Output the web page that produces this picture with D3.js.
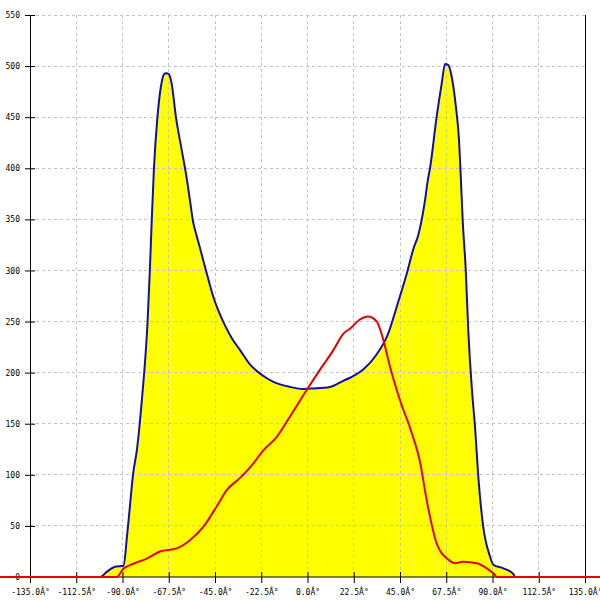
<!DOCTYPE html>
<html><head><meta charset="utf-8">
<script src="https://cdn.jsdelivr.net/npm/d3@7"></script>
<style>body{margin:0;background:#fff}svg{display:block}</style>
</head><body>
<svg id="c" width="600" height="600"></svg>
<script>
const xTicks = [-135, -112.5, -90, -67.5, -45, -22.5, 0, 22.5, 45, 67.5, 90, 112.5, 135];
const xTickLabels = ["-135.0Â°","-112.5Â°","-90.0Â°","-67.5Â°","-45.0Â°","-22.5Â°","0.0Â°","22.5Â°","45.0Â°","67.5Â°","90.0Â°","112.5Â°","135.0Â°"];
const yTicks = [0, 50, 100, 150, 200, 250, 300, 350, 400, 450, 500, 550];

const blueAngles = [-180,-100.9,-97.7,-93.6,-89.5,-87.8,-86.35,-84.9,-82.95,-80.5,-77.8,-76.7,-75.75,-74.7,-73.0,-71.3,-69.8,-68.8,-67.4,-66.1,-64.0,-61.2,-58.5,-57.0,-55.6,-54.2,-52.3,-49.0,-45.8,-42.6,-40.1,-36.9,-32.8,-28.0,-22.3,-16.6,-8.5,-2.0,2.8,10.9,17.4,20.7,27.1,33.7,39.2,43.8,48.3,51.5,53.8,55.5,57.2,58.5,59.6,62.8,65.3,66.9,68.5,70.1,72.2,73.7,74.5,75.5,77.0,78.2,79.9,80.4,81.5,83.1,85.5,88.8,90.4,95.3,100.1,101,180];
const blueValues = [0,0,5,10,11,40,70,100,125,175,250,300,350,400,450,480,492,493,492,483,450,418,387,366,347,336,322,297,274,257,246,234,222,208,198,191,186,184,184.5,186,192,195,203,218,238,267,297,321,334,349,369,388,400,450,483,502,501,490,460,428,395,349,300,242,186,173,147,98,49,20,12,8.5,3,0,0];

const redAngles = [-180,-92.8,-89.6,-84.7,-78.2,-71.8,-63.6,-57.2,-50.7,-44.2,-39.3,-32.8,-26.4,-21.5,-15.0,-8.5,-0.4,6.1,12.6,17.4,20.7,25.5,29.4,33.7,36.9,40.1,45.0,50.7,54.7,58.0,62.8,68.5,71.8,75.8,82.3,87.2,91.2,92.0,180];
const redValues = [0,0,8,13,18,25,28,36,49,69,85,97,111,124,137,157,183,203,222,238,243,252,255,250,232,206,173,141,113,75,33,17,13.5,15,13.5,8.5,2,0,0];

const svg = d3.select("#c");
const x = d3.scaleLinear().domain([-135, 135]).range([30, 585]);
const y = d3.scaleLinear().domain([0, 550]).range([577, 15]);

const blue = blueAngles.map((a,i)=>[a, blueValues[i]]);
const red = redAngles.map((a,i)=>[a, redValues[i]]);

const curve = d3.curveMonotoneX;

// area
svg.append("path").datum(blue)
  .attr("d", d3.area().x(d=>x(d[0])).y0(y(0)).y1(d=>y(d[1])).curve(curve))
  .attr("fill", "#ffff00");

// grid
svg.append("g").selectAll("line").data(xTicks.filter(t=>t!==-135 && t!==135)).join("line")
  .attr("x1", d=>x(d)).attr("x2", d=>x(d)).attr("y1", y(550)).attr("y2", y(0))
  .attr("stroke", "#c4c4c4").attr("stroke-dasharray", "3,3").attr("shape-rendering","crispEdges");
svg.append("g").selectAll("line").data(yTicks.filter(t=>t!==0)).join("line")
  .attr("x1", x(-135)).attr("x2", x(135)).attr("y1", d=>y(d)).attr("y2", d=>y(d))
  .attr("stroke", "#c4c4c4").attr("stroke-dasharray", "3,3").attr("shape-rendering","crispEdges");

// axes
const yAxis = svg.append("g").attr("transform", `translate(${x(-135)},0)`)
  .call(d3.axisLeft(y).tickValues(yTicks).tickSize(5).tickFormat(d3.format("d")));
yAxis.select(".domain").remove();
yAxis.selectAll(".tick line").attr("x1", -5).attr("x2", 5).attr("stroke","#000");
yAxis.selectAll(".tick text").attr("x", -10).attr("font-family","DejaVu Sans Mono").attr("font-size", 8).attr("fill","#000");

const xAxis = svg.append("g").attr("transform", `translate(0,${y(0)})`)
  .call(d3.axisBottom(x).tickValues(xTicks).tickSize(5).tickFormat((d,i)=>xTickLabels[i]));
xAxis.select(".domain").remove();
xAxis.selectAll(".tick line").attr("y1", -5).attr("y2", 6).attr("stroke","#000");
xAxis.selectAll(".tick text").attr("y", 12).attr("font-family","DejaVu Sans Mono").attr("font-size", 8).attr("fill","#000");

svg.append("line").attr("x1", x(-135)).attr("x2", x(-135)).attr("y1", y(550)).attr("y2", y(0)+6).attr("stroke","#000").attr("shape-rendering","crispEdges");
svg.append("line").attr("x1", x(135)).attr("x2", x(135)).attr("y1", y(550)).attr("y2", y(0)+6).attr("stroke","#000").attr("shape-rendering","crispEdges");
svg.append("line").attr("x1", x(-135)).attr("x2", x(135)).attr("y1", y(0)).attr("y2", y(0)).attr("stroke","#000");

// lines
const line = d3.line().x(d=>x(d[0])).y(d=>y(d[1])).curve(curve);
svg.append("path").datum(blue).attr("d", line).attr("fill","none").attr("stroke","#1010a8").attr("stroke-width",2);
svg.append("path").datum(red).attr("d", line).attr("fill","none").attr("stroke","#e80000").attr("stroke-width",2);
</script>
</body></html>
